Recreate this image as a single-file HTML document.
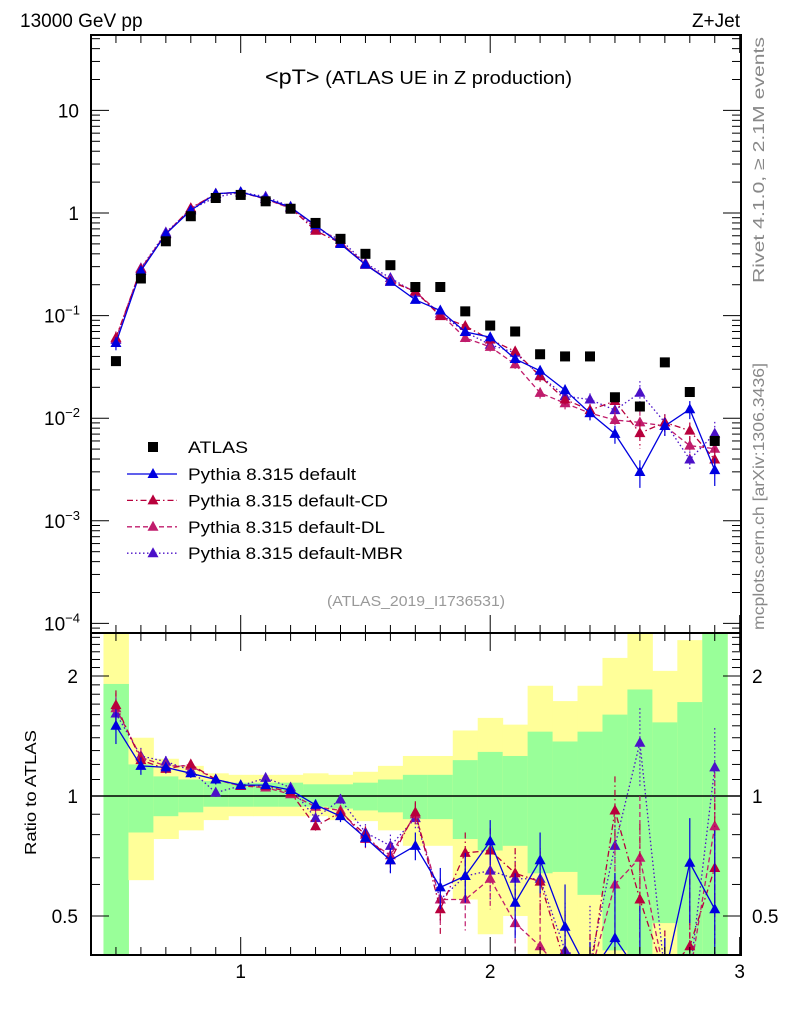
<!DOCTYPE html>
<html><head><meta charset="utf-8"><style>
html,body{margin:0;padding:0;background:#fff;width:786px;height:1024px;overflow:hidden;}
svg{display:block;font-family:"Liberation Sans",Arial,sans-serif;}
</style></head><body>
<svg id="chart" width="786" height="1024" viewBox="0 0 786 1024" xmlns="http://www.w3.org/2000/svg">
<g id="bands"></g>
<g id="marks"></g>
<g id="axes"></g>
<text x="20" y="27" font-size="19">13000 GeV pp</text>
<text x="740" y="27" font-size="19" text-anchor="end">Z+Jet</text>
<text x="265" y="84" font-size="18" textLength="307" lengthAdjust="spacingAndGlyphs"><tspan font-size="21">&lt;pT&gt;</tspan> (ATLAS UE in Z production)</text>
<text x="327" y="606" font-size="15" fill="#999" textLength="178" lengthAdjust="spacingAndGlyphs">(ATLAS_2019_I1736531)</text>
<text transform="translate(764,283) rotate(-90)" font-size="16" fill="#888" textLength="246" lengthAdjust="spacingAndGlyphs">Rivet 4.1.0, ≥ 2.1M events</text>
<text transform="translate(764,630) rotate(-90)" font-size="16" fill="#888" textLength="267" lengthAdjust="spacingAndGlyphs">mcplots.cern.ch [arXiv:1306.3436]</text>
<text transform="translate(36,855) rotate(-90)" font-size="16" textLength="125" lengthAdjust="spacingAndGlyphs">Ratio to ATLAS</text>
<g id="legend"></g>
</svg>
<script>
const xs=[0.5,0.6,0.7,0.8,0.9,1.0,1.1,1.2,1.3,1.4,1.5,1.6,1.7,1.8,1.9,2.0,2.1,2.2,2.3,2.4,2.5,2.6,2.7,2.8,2.9];
const dataY=[0.036,0.23,0.53,0.93,1.4,1.5,1.3,1.1,0.8,0.56,0.4,0.31,0.19,0.19,0.11,0.08,0.07,0.042,0.04,0.04,0.016,0.013,0.035,0.018,0.006];
const rDefault=[1.5,1.19,1.18,1.14,1.10,1.065,1.065,1.035,0.95,0.89,0.785,0.69,0.75,0.59,0.63,0.77,0.54,0.69,0.47,0.28,0.44,0.23,0.24,0.68,0.52];
const rCD=[1.69,1.23,1.17,1.20,1.10,1.06,1.06,1.02,0.84,0.91,0.80,0.69,0.91,0.52,0.72,0.73,0.64,0.61,0.38,0.30,0.92,0.55,0.26,0.42,0.66];
const rDL=[1.66,1.25,1.19,1.19,1.10,1.06,1.05,1.01,0.94,0.92,0.78,0.71,0.90,0.55,0.55,0.62,0.48,0.42,0.35,0.28,0.60,0.70,0.24,0.30,0.84];
const rMBR=[1.61,1.26,1.22,1.16,1.02,1.06,1.11,1.05,0.88,0.98,0.81,0.75,0.88,0.55,0.63,0.65,0.62,0.62,0.41,0.38,0.75,1.36,0.26,0.22,1.18];
const rErr=[0.15,0.06,0.04,0.03,0.03,0.02,0.02,0.02,0.03,0.03,0.04,0.05,0.06,0.07,0.09,0.1,0.1,0.12,0.13,0.15,0.2,0.3,0.2,0.2,0.3];
const yelHi=[3,1.40,1.24,1.19,1.14,1.13,1.13,1.13,1.14,1.13,1.15,1.19,1.26,1.26,1.46,1.57,1.51,1.89,1.73,1.89,2.22,3,2.06,2.46,3];
const grnHi=[1.91,1.20,1.12,1.10,1.09,1.08,1.08,1.08,1.07,1.07,1.08,1.10,1.13,1.13,1.23,1.29,1.26,1.45,1.37,1.45,1.6,1.85,1.53,1.72,3];
const grnLo=[0.3,0.81,0.89,0.91,0.94,0.94,0.94,0.94,0.94,0.93,0.92,0.91,0.875,0.875,0.78,0.73,0.75,0.64,0.645,0.565,0.41,0.3,0.48,0.3,0.3];
const yelLo=[0.3,0.615,0.78,0.82,0.87,0.89,0.89,0.89,0.89,0.87,0.865,0.82,0.75,0.75,0.55,0.45,0.5,0.3,0.3,0.3,0.3,0.3,0.3,0.3,0.3];
const yTicksTop=[10,1,0.1,0.01,0.001,0.0001];
const yTickLabelsTop=["10","1","10^-1","10^-2","10^-3","10^-4"];
const rTicks=[2,1,0.5];
const xTicks=[1,2,3];

const NS="http://www.w3.org/2000/svg";
const L=91,R=741,T1=35,B1=633,T2=633,B2=955;
const X=v=>L+(v-0.4)*249.5;
const Y1=v=>213-Math.log10(v)*102.6;
const Y2=v=>796-Math.log10(v)*398.7;
function mk(par,tag,at){const e=document.createElementNS(NS,tag);for(const k in at)e.setAttribute(k,at[k]);document.getElementById(par).appendChild(e);return e;}
const clamp1=y=>Math.max(T1,Math.min(B1,y));
const clamp2=y=>Math.max(T2,Math.min(B2,y));

xs.forEach((x,i)=>{
 let e=mk('bands','rect',{x:X(x-0.05),y:clamp2(Y2(yelHi[i])),width:X(x+0.05)-X(x-0.05)+0.5,height:clamp2(Y2(yelLo[i]))-clamp2(Y2(yelHi[i])),fill:'#ffff99'});
 
 
 let g=mk('bands','rect',{x:X(x-0.05),y:clamp2(Y2(grnHi[i])),width:X(x+0.05)-X(x-0.05)+0.5,height:clamp2(Y2(grnLo[i]))-clamp2(Y2(grnHi[i])),fill:'#99ff99'});
 
 
});
mk('bands','line',{x1:L,x2:R,y1:Y2(1),y2:Y2(1),stroke:'#000','stroke-width':1.5});

const series=[
 {r:rDefault,c:'#0000e0',d:'',name:'Pythia 8.315 default',key:'default',w:168},
 {r:rCD,c:'#b8003c',d:'6,3,1.5,3',name:'Pythia 8.315 default-CD',key:'cd',w:200},
 {r:rDL,c:'#c01c6c',d:'5,3',name:'Pythia 8.315 default-DL',key:'dl',w:197},
 {r:rMBR,c:'#4b10c8',d:'1.5,2.5',name:'Pythia 8.315 default-MBR',key:'mbr',w:215}];
function tri(par,cx,cy,c){return mk(par,'polygon',{points:`${cx},${cy-6} ${cx-5.5},${cy+4} ${cx+5.5},${cy+4}`,fill:c});}
const defs=mk('chart','defs',{});
defs.innerHTML=`<clipPath id="c1"><rect x="${L}" y="${T1}" width="${R-L}" height="${B1-T1}"/></clipPath><clipPath id="c2"><rect x="${L}" y="${T2}" width="${R-L}" height="${B2-T2}"/></clipPath>`;
const g1=mk('marks','g',{'clip-path':'url(#c1)',id:'top'});


const g2=mk('marks','g',{'clip-path':'url(#c2)',id:'bot'});



series.slice().reverse().forEach(s=>{
 const pts1=xs.map((x,i)=>X(x)+','+clamp1(Y1(dataY[i]*s.r[i]))).join(' ');
 const pts2=xs.map((x,i)=>X(x)+','+Math.min(B2+20,Y2(s.r[i]))).join(' ');
 let l1=mk('top','polyline',{points:pts1,fill:'none',stroke:s.c,'stroke-width':1.3,'stroke-dasharray':s.d});
 
 
 let l2=mk('bot','polyline',{points:pts2,fill:'none',stroke:s.c,'stroke-width':1.3,'stroke-dasharray':s.d});
 
 
 xs.forEach((x,i)=>{
  const v=dataY[i]*s.r[i],e=rErr[i];
  let eb=mk('top','line',{x1:X(x),x2:X(x),y1:clamp1(Y1(v*(1+e))),y2:clamp1(Y1(Math.max(v*(1-e),1e-6))),stroke:s.c,'stroke-width':1.2,'stroke-dasharray':s.d});
  
  
  let p=tri('top',X(x),Y1(v),s.c);
  
  
  let eb2=mk('bot','line',{x1:X(x),x2:X(x),y1:clamp2(Y2(s.r[i]+e)),y2:clamp2(Y2(Math.max(s.r[i]-e,0.01))),stroke:s.c,'stroke-width':1.2,'stroke-dasharray':s.d});
  
  
  if(Y2(s.r[i])<B2+8){
  let p2=tri('bot',X(x),Y2(s.r[i]),s.c);
  
  }
 });
});
xs.forEach((x,i)=>{
 let sq=mk('top','rect',{x:X(x)-5,y:Y1(dataY[i])-5,width:10,height:10,fill:'#000'});
 
 
});

[[T1,B1],[T2,B2]].forEach(([t,b])=>{let f=mk('axes','rect',{x:L,y:t,width:R-L,height:b-t,fill:'none',stroke:'#000','stroke-width':2});});
for(let k=5;k<=30;k++){const v=k/10,x=X(v),maj=(k%10==0),len=maj?18:8;
 [[T1,1],[B1,-1],[T2,1],[B2,-1]].forEach(([y,d])=>mk('axes','line',{x1:x,x2:x,y1:y,y2:y+d*len,stroke:'#000','stroke-width':1}));}
xTicks.forEach(v=>{let t=mk('axes','text',{x:X(v),y:978,'font-size':19,'text-anchor':'middle'});t.textContent=v;});
for(let e=-5;e<=1;e++)for(let m=1;m<10;m++){const v=m*Math.pow(10,e),y=Y1(v);if(y<T1||y>B1)continue;const len=m==1?18:9;
 mk('axes','line',{x1:L,x2:L+len,y1:y,y2:y,stroke:'#000'});mk('axes','line',{x1:R,x2:R-len,y1:y,y2:y,stroke:'#000'});}
yTicksTop.forEach((v,i)=>{const lab=yTickLabelsTop[i];let t=mk('axes','text',{x:79,y:Y1(v)+7,'font-size':19,'text-anchor':'end'});
 if(lab.includes('^')){const [b,ex]=lab.split('^');t.innerHTML=`${b}<tspan dy="-8" font-size="13">${ex.replace('-','−')}</tspan>`;t.setAttribute('x',80);}else t.textContent=lab;
 });
for(let k=4;k<=25;k++){const v=k/10,y=Y2(v);if(y<T2||y>B2)continue;const maj=(k==5||k==10||k==20);const len=maj?18:9;
 mk('axes','line',{x1:L,x2:L+len,y1:y,y2:y,stroke:'#000'});mk('axes','line',{x1:R,x2:R-len,y1:y,y2:y,stroke:'#000'});}
rTicks.forEach(v=>{[[78,'end'],[752,'start']].forEach(([x,a])=>{let t=mk('axes','text',{x:x,y:Y2(v)+7,'font-size':19,'text-anchor':a});t.textContent=v;});});

let ly=447;
mk('legend','rect',{x:148,y:ly-5,width:10,height:10,fill:'#000'});
let lt=mk('legend','text',{x:188,y:ly+6,'font-size':17,textLength:60,lengthAdjust:'spacingAndGlyphs'});lt.textContent='ATLAS';


series.forEach((s,i)=>{const y=474+i*26.4;
 mk('legend','line',{x1:127,x2:177,y1:y,y2:y,stroke:s.c,'stroke-width':1.3,'stroke-dasharray':s.d});
 tri('legend',153,y,s.c);
 let t=mk('legend','text',{x:188,y:y+6,'font-size':17,textLength:s.w,lengthAdjust:'spacingAndGlyphs'});t.textContent=s.name;
 
 });
</script>
</body></html>
